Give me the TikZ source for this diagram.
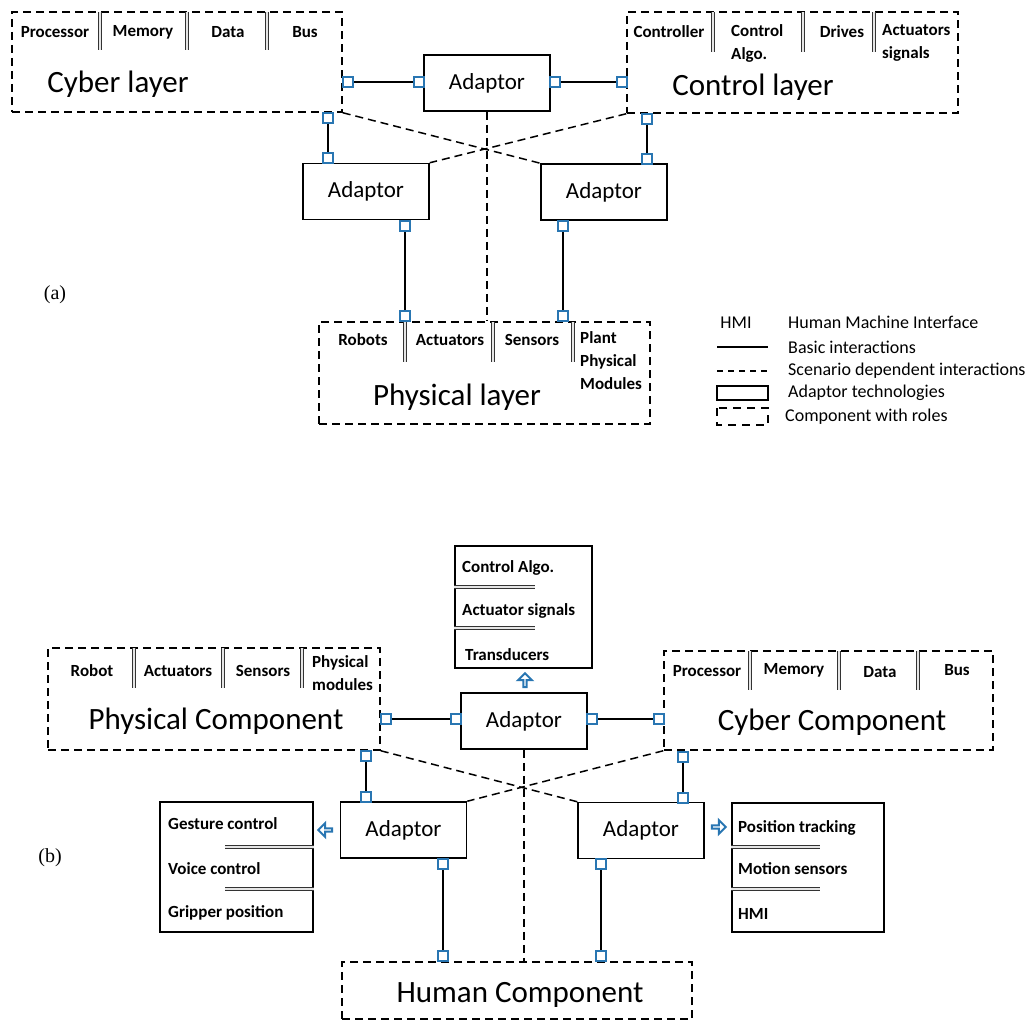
\documentclass[tikz,border=0pt]{standalone}
\usepackage{fontspec}
\setmainfont{Carlito}
\newfontfamily\capfont{Liberation Serif}
\usetikzlibrary{shapes.arrows}
\definecolor{portblue}{RGB}{41,118,178}
\tikzset{
  comp/.style={draw, dash pattern=on 8pt off 5pt, line width=1.5pt, inner sep=0pt},
  infobox/.style={draw, line width=1.5pt, inner sep=0pt},
  adaptor/.style={draw, line width=1.5pt, minimum width=126pt, minimum height=56pt, inner sep=0pt, font=\fontsize{23}{26}\selectfont},
  port/.style={draw=portblue, line width=2pt, fill=white, minimum size=10pt, inner sep=0pt},
  link/.style={line width=1.5pt},
  scen/.style={dash pattern=on 8pt off 5pt, line width=1.5pt},
  role/.style={inner sep=0pt, font=\fontsize{17}{23}\selectfont\bfseries},
  title/.style={inner sep=0pt, font=\fontsize{31}{34}\selectfont},
  legtext/.style={inner sep=0pt, anchor=west, font=\fontsize{18}{20}\selectfont},
  seprule/.style={draw=black!80, line width=1.2pt, double=black!10, double distance=1.6pt},
  bluearrow/.style={single arrow, draw=portblue, line width=2pt, fill=white, minimum width=14pt, minimum height=14pt, single arrow head extend=3.5pt, inner sep=0pt}
}
\begin{document}
\begin{tikzpicture}[x=1pt, y=-1pt]
\useasboundingbox (0,0) rectangle (1030,1022);
\node[comp, minimum width=330pt, minimum height=100pt] (cyber) at (177,62) {};
\node[comp, minimum width=331pt, minimum height=101pt] (ctrl) at (792.5,62.5) {};
\node[comp, minimum width=331pt, minimum height=102pt] (phys) at (484.5,373) {};
\node[adaptor] (adT) at (487,83) {Adaptor};
\node[adaptor] (adL) at (366,191.5) {Adaptor};
\node[adaptor] (adR) at (604,192) {Adaptor};
\draw[seprule] (100,12) -- (100,50);\draw[seprule] (187,12) -- (187,50);\draw[seprule] (267,12) -- (267,50);
\node[role] (cy1) at (55,32) {Processor};\node[role] (cy2) at (143,32) {Memory};\node[role] (cy3) at (228,32) {Data};\node[role] (cy4) at (305,32) {Bus};
\node[title] (cyT) at (118,84) {Cyber layer};
\draw[seprule] (713,12) -- (713,52);\draw[seprule] (803,12) -- (803,52);\draw[seprule] (874,12) -- (874,52);
\node[role] (ct1) at (669,32) {Controller};\node[role, anchor=west, align=left] (ct2) at (731,43) {Control\\Algo.};\node[role] (ct3) at (842,32) {Drives};\node[role, anchor=west, align=left] (ct4) at (882,43) {Actuators\\signals};
\node[title] (ctT) at (753,87) {Control layer};
\draw[seprule] (405,322) -- (405,362);\draw[seprule] (493,322) -- (493,362);\draw[seprule] (573,322) -- (573,362);
\node[role] (ph1) at (363,340) {Robots};\node[role] (ph2) at (450,340) {Actuators};\node[role] (ph3) at (532,340) {Sensors};\node[role, anchor=west, align=left] (ph4) at (580,361) {Plant\\Physical\\Modules};
\node[title] (phT) at (457,397) {Physical layer};
\draw[scen] (cyber.south east) -- (adR.north west);\draw[scen] (ctrl.south west) -- (adL.north east);\draw[scen] (adT.south) -- (adT.south |- phys.north);
\node[port] (pa1) at (348,82) {};\node[port] (pa2) at (419,82) {};\node[port] (pa3) at (555,82) {};\node[port] (pa4) at (622,82) {};
\node[port] (pa5) at (328,118) {};\node[port] (pa6) at (328,158) {};\node[port] (pa7) at (647,119) {};\node[port] (pa8) at (647,159) {};
\node[port] (pa9) at (405,226) {};\node[port] (pa10) at (405,316) {};\node[port] (pa11) at (563,226) {};\node[port] (pa12) at (563,316) {};
\draw[link] (pa1) -- (pa2);\draw[link] (pa3) -- (pa4);\draw[link] (pa5) -- (pa6);\draw[link] (pa7) -- (pa8);\draw[link] (pa9) -- (pa10);\draw[link] (pa11) -- (pa12);
\node[inner sep=0pt, font=\capfont\fontsize{20}{22}\selectfont] (capa) at (55,295) {(a)};
\node[inner sep=0pt, font=\fontsize{18}{20}\selectfont] (hmi) at (736,323) {HMI};
\node[legtext] (lg1) at (788,322) {Human Machine Interface};
\draw[link] (717,347) -- (768,347);\node[legtext] (lg2) at (788,347) {Basic interactions};
\draw[dash pattern=on 6pt off 5pt, line width=1.2pt] (717,371) -- (768,371);\node[legtext] (lg3) at (788,371) {Scenario dependent interactions};
\draw[line width=2pt] (717,386) rectangle (768,400);\node[legtext] (lg4) at (788,393) {Adaptor technologies};
\draw[dash pattern=on 8pt off 6pt, line width=2pt] (717,408) rectangle (768,425);\node[legtext] (lg5) at (785,417) {Component with roles};
\node[comp, minimum width=332pt, minimum height=102pt] (physC) at (214,699) {};
\node[comp, minimum width=329pt, minimum height=99pt] (cybC) at (828.5,700.5) {};
\node[comp, minimum width=350pt, minimum height=57pt] (human) at (517,990.5) {};
\node[adaptor] (adTb) at (524,721) {Adaptor};
\node[adaptor] (adLb) at (403.5,830) {Adaptor};
\node[adaptor] (adRb) at (641,830.5) {Adaptor};
\draw[seprule] (134,648) -- (134,688);\draw[seprule] (223,648) -- (223,688);\draw[seprule] (302,648) -- (302,688);
\node[role] (pc1) at (92,671) {Robot};\node[role] (pc2) at (178,671) {Actuators};\node[role] (pc3) at (263,671) {Sensors};\node[role, anchor=west, align=left] (pc4) at (312,673) {Physical\\modules};
\node[title] (pcT) at (216,721) {Physical Component};
\draw[seprule] (750,651) -- (750,690);\draw[seprule] (839,651) -- (839,690);\draw[seprule] (918,651) -- (918,690);
\node[role] (cc1) at (707,671) {Processor};\node[role] (cc2) at (794,670) {Memory};\node[role] (cc3) at (880,672) {Data};\node[role] (cc4) at (957,670) {Bus};
\node[title] (ccT) at (832,722) {Cyber Component};
\node[title] (hcT) at (520,995) {Human Component};
\node[infobox, minimum width=137pt, minimum height=122pt] (tbox) at (523.5,607) {};
\node[role, anchor=west] (tb1) at (462,568) {Control Algo.};\node[role, anchor=west] (tb2) at (462,611) {Actuator signals};\node[role, anchor=west] (tb3) at (465,655) {Transducers};
\draw[seprule] (tbox.west |- 0,587) -- (535,587);\draw[seprule] (tbox.west |- 0,628) -- (535,628);
\node[infobox, minimum width=153pt, minimum height=130pt] (lbox) at (236.5,867) {};
\node[role, anchor=west] (lb1) at (168,824) {Gesture control};\node[role, anchor=west] (lb2) at (168,869) {Voice control};\node[role, anchor=west] (lb3) at (168,913) {Gripper position};
\draw[seprule] (225,847) -- (lbox.east |- 0,847);\draw[seprule] (225,889) -- (lbox.east |- 0,889);
\node[infobox, minimum width=152pt, minimum height=129pt] (rbox) at (808,867.5) {};
\node[role, anchor=west] (rb1) at (738,828) {Position tracking};\node[role, anchor=west] (rb2) at (738,869) {Motion sensors};\node[role, anchor=west] (rb3) at (738,914) {HMI};
\draw[seprule] (rbox.west |- 0,847) -- (820,847);\draw[seprule] (rbox.west |- 0,889) -- (820,889);
\node[bluearrow, shape border rotate=90] (arT) at (525,681) {};
\node[bluearrow, shape border rotate=180] (arL) at (326,830) {};
\node[bluearrow] (arR) at (718,827) {};
\draw[scen] (physC.south east) -- (adRb.north west);\draw[scen] (cybC.south west) -- (adLb.north east);\draw[scen] (adTb.south) -- (adTb.south |- human.north);
\node[port] (pb1) at (386,719) {};\node[port] (pb2) at (456,719) {};\node[port] (pb3) at (592,719) {};\node[port] (pb4) at (659,719) {};
\node[port] (pb5) at (366,756) {};\node[port] (pb6) at (366,797) {};\node[port] (pb7) at (683,757) {};\node[port] (pb8) at (683,798) {};
\node[port] (pb9) at (443,864) {};\node[port] (pb10) at (443,956) {};\node[port] (pb11) at (601,864) {};\node[port] (pb12) at (601,956) {};
\draw[link] (pb1) -- (pb2);\draw[link] (pb3) -- (pb4);\draw[link] (pb5) -- (pb6);\draw[link] (pb7) -- (pb8);\draw[link] (pb9) -- (pb10);\draw[link] (pb11) -- (pb12);
\node[inner sep=0pt, font=\capfont\fontsize{20}{22}\selectfont] (capb) at (50,858) {(b)};
\end{tikzpicture}
\end{document}
